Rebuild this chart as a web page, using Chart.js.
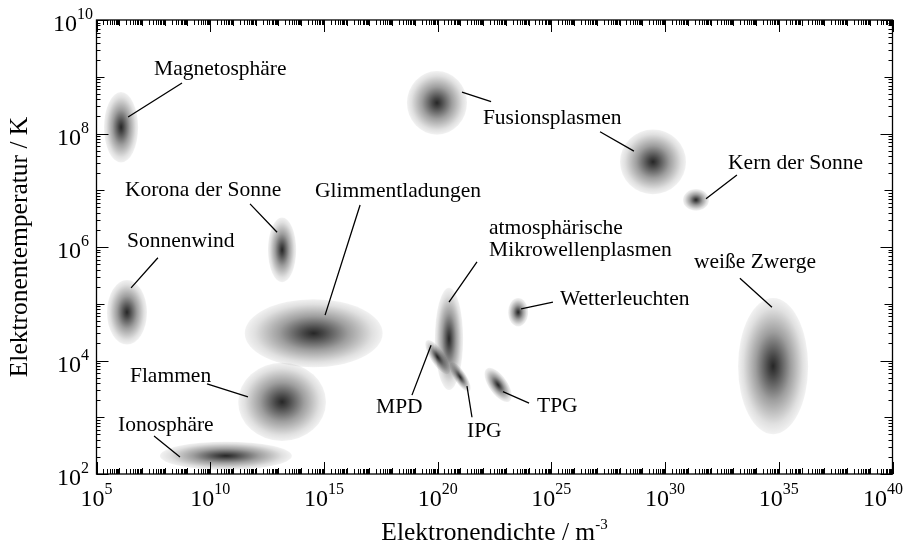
<!DOCTYPE html>
<html>
<head>
<meta charset="utf-8">
<script src="https://cdn.jsdelivr.net/npm/chart.js@4.4.1/dist/chart.umd.min.js"></script>
<style>
  html, body { margin: 0; padding: 0; background: #fff; }
  canvas { display: block; }
</style>
</head>
<body>
<canvas id="chart" width="905" height="547"></canvas>
<script>
// Plasma regions, all values as powers of ten (log10)
const regionNames = ['Magnetosphäre', 'Fusion (MCF)', 'Fusion (ICF)', 'Kern der Sonne', 'Korona der Sonne',
  'Sonnenwind', 'Glimmentladungen', 'Flammen', 'Ionosphäre', 'Mikrowellenplasmen', 'MPD', 'IPG', 'TPG',
  'Wetterleuchten', 'weiße Zwerge'];
const densityExp     = [6.08, 19.97, 29.47, 31.36, 13.16, 6.34, 14.55, 13.16, 10.69, 20.50, 20.00, 20.99, 22.66, 23.54, 34.75];
const temperatureExp = [8.11, 8.54, 7.50, 6.83, 5.95, 4.85, 4.48, 3.27, 2.32, 4.38, 4.06, 3.71, 3.57, 4.85, 3.90];
// half extent of each region in decades
const densitySpread     = [0.75, 1.32, 1.45, 0.57, 0.62, 0.88, 3.03, 1.93, 2.90, 0.62, 0.31, 0.26, 0.40, 0.44, 1.54];
const temperatureSpread = [0.62, 0.56, 0.57, 0.19, 0.57, 0.57, 0.60, 0.69, 0.25, 0.90, 0.35, 0.30, 0.35, 0.25, 1.20];
const tiltDeg = [0, 0, 0, 0, 0, 0, 0, 0, 0, 0, -33, -33, -35, 0, 0];

// axis ticks (exponents)
const xLabelExp = [5, 10, 15, 20, 25, 30, 35, 40];
const yLabelExp = [2, 4, 6, 8, 10];

// labels: text lines and left/baseline anchor (exponents)
const labelText = [['Magnetosphäre'], ['Fusionsplasmen'], ['Kern der Sonne'], ['Korona der Sonne'],
  ['Glimmentladungen'], ['atmosphärische', 'Mikrowellenplasmen'], ['Sonnenwind'], ['weiße Zwerge'],
  ['Wetterleuchten'], ['Flammen'], ['MPD'], ['TPG'], ['IPG'], ['Ionosphäre']];
const labelX = [7.53, 21.99, 32.77, 6.25, 14.61, 22.26, 6.34, 31.27, 25.38, 6.47, 17.29, 24.37, 21.29, 5.95];
const labelY = [9.03, 8.17, 7.37, 6.90, 6.88, 6.23, 6.00, 5.63, 4.98, 3.62, 3.08, 3.09, 2.65, 2.76];

// leader lines from region to label
const leaderX1 = [6.39, 21.07, 28.63, 31.80, 12.94, 15.05, 6.52, 20.50, 34.70, 23.67, 11.66, 8.67, 19.71, 21.29, 22.87];
const leaderY1 = [8.29, 8.73, 7.69, 6.85, 6.26, 4.80, 5.28, 5.03, 4.94, 4.91, 3.36, 2.30, 4.27, 3.55, 3.45];
const leaderX2 = [8.76, 22.35, 27.14, 33.16, 11.75, 16.59, 7.70, 21.73, 33.29, 25.07, 9.86, 7.53, 18.87, 21.51, 24.02];
const leaderY2 = [8.89, 8.56, 8.03, 7.27, 6.76, 6.74, 5.81, 5.74, 5.45, 5.03, 3.59, 2.67, 3.39, 3.00, 3.25];

const FONT = '"Liberation Serif", "Times New Roman", serif';
const p10 = (e) => Math.pow(10, e);

function drawPow(ctx, base, exp, x, y, baseSize, expSize, rise, align) {
  ctx.font = `${baseSize}px ${FONT}`;
  const wb = ctx.measureText(base).width;
  ctx.font = `${expSize}px ${FONT}`;
  const we = ctx.measureText(exp).width;
  let x0 = x;
  if (align === 'center') x0 = x - (wb + we) / 2;
  // keep the last label inside the canvas
  x0 = Math.min(x0, ctx.canvas.width - 2 - (wb + we));
  ctx.textAlign = 'left';
  ctx.textBaseline = 'alphabetic';
  ctx.font = `${baseSize}px ${FONT}`;
  ctx.fillText(base, x0, y);
  ctx.font = `${expSize}px ${FONT}`;
  ctx.fillText(exp, x0 + wb, y - rise);
}

const regionsPlugin = {
  id: 'regions',
  beforeDraw(chart) {
    const ctx = chart.ctx;
    ctx.save();
    ctx.fillStyle = '#fff';
    ctx.fillRect(0, 0, chart.width, chart.height);
    ctx.restore();
  },
  beforeDatasetsDraw(chart) {
    const { ctx, scales: { x, y }, chartArea: a } = chart;
    ctx.save();
    ctx.beginPath();
    ctx.rect(a.left, a.top, a.right - a.left, a.bottom - a.top);
    ctx.clip();
    regionNames.forEach((name, i) => {
      const cx = x.getPixelForValue(p10(densityExp[i]));
      const cy = y.getPixelForValue(p10(temperatureExp[i]));
      const rx = x.getPixelForValue(p10(densityExp[i] + densitySpread[i])) - cx;
      const ry = cy - y.getPixelForValue(p10(temperatureExp[i] + temperatureSpread[i]));
      ctx.save();
      ctx.translate(cx, cy);
      ctx.rotate(tiltDeg[i] * Math.PI / 180);
      ctx.scale(rx, ry);
      const g = ctx.createRadialGradient(0, 0, 0, 0, 0, 1);
      g.addColorStop(0, 'rgba(0,0,0,0.85)');
      g.addColorStop(0.15, 'rgba(0,0,0,0.72)');
      g.addColorStop(0.5, 'rgba(0,0,0,0.38)');
      g.addColorStop(0.85, 'rgba(0,0,0,0.12)');
      g.addColorStop(1, 'rgba(0,0,0,0.05)');
      ctx.fillStyle = g;
      ctx.beginPath();
      ctx.arc(0, 0, 1, 0, Math.PI * 2);
      ctx.fill();
      ctx.restore();
    });
    ctx.restore();
  },
  afterDraw(chart) {
    const { ctx, scales: { x, y }, chartArea: a } = chart;
    ctx.save();
    ctx.strokeStyle = '#000';
    ctx.fillStyle = '#000';

    // ticks, inward on all four sides
    ctx.lineWidth = 1;
    ctx.beginPath();
    for (let d = 5; d <= 40; d++) {
      for (let k = 1; k <= 9; k++) {
        if (d === 40 && k > 1) break;
        const px = Math.round(x.getPixelForValue(k * p10(d))) + 0.5;
        const len = k === 1 ? (d % 5 === 0 ? 12 : 6) : 5;
        ctx.moveTo(px, a.bottom); ctx.lineTo(px, a.bottom - len);
        ctx.moveTo(px, a.top); ctx.lineTo(px, a.top + len);
      }
    }
    for (let d = 2; d <= 10; d++) {
      for (let k = 1; k <= 9; k++) {
        if (d === 10 && k > 1) break;
        const py = Math.round(y.getPixelForValue(k * p10(d))) + 0.5;
        const len = k === 1 ? (d % 2 === 0 ? 12 : 8) : 4;
        ctx.moveTo(a.left, py); ctx.lineTo(a.left + len, py);
        ctx.moveTo(a.right, py); ctx.lineTo(a.right - len, py);
      }
    }
    ctx.stroke();

    // frame
    ctx.lineWidth = 1.3;
    ctx.strokeRect(a.left, a.top, a.right - a.left, a.bottom - a.top);

    // tick labels
    xLabelExp.forEach(e => {
      drawPow(ctx, '10', String(e), x.getPixelForValue(p10(e)), a.bottom + 32, 24, 16, 12, 'center');
    });
    yLabelExp.forEach(e => {
      drawPow(ctx, '10', String(e), 73, y.getPixelForValue(p10(e)) + 11, 24, 16, 12, 'center');
    });

    // axis titles
    drawPow(ctx, 'Elektronendichte / m', '-3', (a.left + a.right) / 2, 540, 25.5, 15, 11, 'center');
    ctx.save();
    ctx.translate(27, (a.top + a.bottom) / 2);
    ctx.rotate(-Math.PI / 2);
    ctx.font = `25.5px ${FONT}`;
    ctx.textAlign = 'center';
    ctx.textBaseline = 'alphabetic';
    ctx.fillText('Elektronentemperatur / K', 0, 0);
    ctx.restore();

    // leader lines
    ctx.lineWidth = 1.3;
    ctx.beginPath();
    leaderX1.forEach((v, i) => {
      ctx.moveTo(x.getPixelForValue(p10(v)), y.getPixelForValue(p10(leaderY1[i])));
      ctx.lineTo(x.getPixelForValue(p10(leaderX2[i])), y.getPixelForValue(p10(leaderY2[i])));
    });
    ctx.stroke();

    // labels
    ctx.font = `21.5px ${FONT}`;
    ctx.textAlign = 'left';
    ctx.textBaseline = 'alphabetic';
    labelText.forEach((lines, i) => {
      const lx = x.getPixelForValue(p10(labelX[i]));
      const ly = y.getPixelForValue(p10(labelY[i]));
      lines.forEach((t, j) => ctx.fillText(t, lx, ly + j * 22));
    });
    ctx.restore();
  }
};

new Chart(document.getElementById('chart'), {
  type: 'scatter',
  data: {
    datasets: [{
      label: 'Plasmen',
      data: regionNames.map((n, i) => ({ x: p10(densityExp[i]), y: p10(temperatureExp[i]) })),
      pointRadius: 0,
      pointHoverRadius: 0
    }]
  },
  options: {
    responsive: false,
    devicePixelRatio: 1,
    animation: false,
    layout: { padding: { left: 96.5, right: 12.5, top: 20, bottom: 73 } },
    plugins: { legend: { display: false }, tooltip: { enabled: false } },
    scales: {
      x: { type: 'logarithmic', min: 1e5, max: 1e40, display: false },
      y: { type: 'logarithmic', min: 1e2, max: 1e10, display: false }
    }
  },
  plugins: [regionsPlugin]
});
</script>
</body>
</html>
